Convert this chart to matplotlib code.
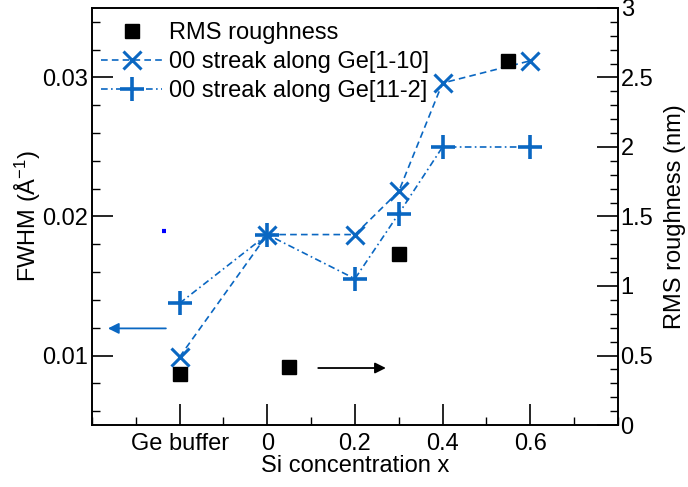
import numpy as np
import matplotlib.pyplot as plt
from matplotlib.ticker import MultipleLocator

plt.rcParams['font.family'] = ['Liberation Sans', 'DejaVu Sans']
plt.rcParams['mathtext.fontset'] = 'custom'
plt.rcParams['mathtext.rm'] = 'Liberation Sans'

# Si concentration (Ge buffer placed at -0.2)
x_fwhm = [-0.2, 0.0, 0.2, 0.3, 0.4, 0.6]
fwhm_110 = [0.0099, 0.0187, 0.0187, 0.0218, 0.0296, 0.0312]
fwhm_112 = [0.01376, 0.0187, 0.01552, 0.0202, 0.0250, 0.0250]

x_rms = [-0.2, 0.05, 0.3, 0.55]
rms = [0.37, 0.42, 1.23, 2.62]

xtick_pos = [-0.2, 0.0, 0.2, 0.4, 0.6]
xtick_labels = ['Ge buffer', '0', '0.2', '0.4', '0.6']

blue = '#0a67c2'
fs = 17

fig = plt.figure(figsize=(6.88, 4.87), dpi=100)
ax = fig.add_axes([0.1337, 0.1273, 0.898 - 0.1337, 0.9836 - 0.1273])
ax2 = ax.twinx()

l1, = ax.plot(x_fwhm, fwhm_110, color=blue, ls=(0, (4, 2.5)), lw=1.2,
              marker='x', ms=13, mew=2.2)
l2, = ax.plot(x_fwhm, fwhm_112, color=blue, ls=(0, (4, 2, 1, 2)), lw=1.2,
              marker='+', ms=17, mew=2.6)
l0, = ax2.plot(x_rms, rms, ls='none', marker='s', ms=10, color='black')

ax.set_xlim(-0.4, 0.8)
ax.set_ylim(0.005, 0.035)
ax2.set_ylim(0, 3)

ax.set_xticks(xtick_pos)
ax.set_xticklabels(xtick_labels)
ax.xaxis.set_minor_locator(MultipleLocator(0.1))
ax.set_yticks([0.01, 0.02, 0.03])
ax.set_yticklabels(['0.01', '0.02', '0.03'])
ax.yaxis.set_minor_locator(MultipleLocator(0.002))
ax2.set_yticks([0, 0.5, 1, 1.5, 2, 2.5, 3])
ax2.set_yticklabels(['0', '0.5', '1', '1.5', '2', '2.5', '3'])
ax2.yaxis.set_minor_locator(MultipleLocator(0.1))

ax.tick_params(axis='both', which='major', direction='in', length=15, width=1.2,
               labelsize=fs, pad=3)
ax.tick_params(axis='both', which='minor', direction='in', length=6, width=1)
ax.tick_params(axis='x', which='major', pad=6)
ax2.tick_params(axis='y', which='major', direction='in', length=15, width=1.2,
                labelsize=fs, pad=2)
ax2.tick_params(axis='y', which='minor', direction='in', length=6, width=1)

for a in (ax, ax2):
    for s in a.spines.values():
        s.set_linewidth(1.2)

ax.set_xlabel('Si concentration x', fontsize=fs, labelpad=0)
ax.set_ylabel(r'FWHM (Å$\mathregular{^{-1}}$)', fontsize=fs, labelpad=-1)
ax2.set_ylabel('RMS roughness (nm)', fontsize=fs, labelpad=8)

# arrows pointing to each axis
ax.annotate('', xy=(-0.37, 0.01195), xytext=(-0.225, 0.01195),
            arrowprops=dict(arrowstyle='-|>', color=blue, lw=1.3,
                            mutation_scale=16))
ax2.annotate('', xy=(0.277, 0.41), xytext=(0.11, 0.41),
             arrowprops=dict(arrowstyle='-|>', color='black', lw=1.3,
                             mutation_scale=16))
ax.plot([-0.241, -0.232], [0.01895, 0.01895], color='blue', lw=3,
        solid_capstyle='butt')

ax2.legend([l0, l1, l2],
           ['RMS roughness', '00 streak along Ge[1-10]', '00 streak along Ge[11-2]'],
           loc='upper left', bbox_to_anchor=(-0.01, 1.0), frameon=False,
           fontsize=fs, handlelength=2.6, handletextpad=0.3, labelspacing=0.3,
           borderaxespad=0.2)

fig.savefig('out.png', dpi=100)
